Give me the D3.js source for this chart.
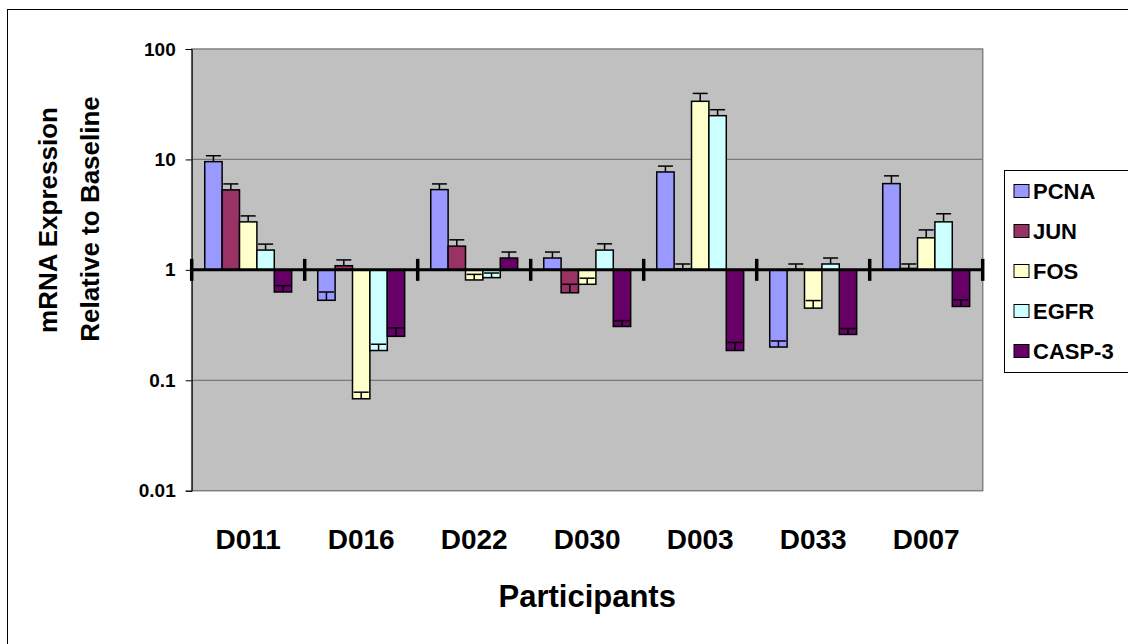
<!DOCTYPE html>
<html>
<head>
<meta charset="utf-8">
<script src="https://cdn.jsdelivr.net/npm/d3@7"></script>
<style>
    body { margin: 0; background: #fff; }
    svg { display: block; font-family: 'Liberation Sans', Arial, sans-serif; font-weight: bold; }
</style>
</head>
<body>
<div class="visHolder"></div>
<script>
const participants = ['D011', 'D016', 'D022', 'D030', 'D003', 'D033', 'D007']
const genes = ['PCNA', 'JUN', 'FOS', 'EGFR', 'CASP-3']
const colors = ['#9999ff', '#993366', '#ffffcc', '#ccffff', '#660066']

// mean fold change and (plus) error per participant
const pcna = [9.55, 0.53, 5.33, 1.28, 7.7, 0.2, 6.04]
const pcnaErr = [1.25, 0.1, 0.67, 0.17, 1.0, 0.027, 1.06]
const jun = [5.3, 1.09, 1.64, 0.62, 1.02, 1.01, 1.03]
const junErr = [0.7, 0.14, 0.23, 0.12, 0.11, 0.12, 0.1]
const fos = [2.72, 0.068, 0.81, 0.74, 33.6, 0.45, 1.95]
const fosErr = [0.36, 0.01, 0.1, 0.1, 6, 0.077, 0.35]
const egfr = [1.51, 0.186, 0.85, 1.51, 24.9, 1.13, 2.72]
const egfrErr = [0.2, 0.026, 0.086, 0.21, 3.3, 0.15, 0.5]
const casp3 = [0.63, 0.25, 1.28, 0.307, 0.186, 0.26, 0.466]
const casp3Err = [0.09, 0.048, 0.17, 0.04, 0.034, 0.034, 0.07]

const yTicks = [100, 10, 1, 0.1, 0.01]
const yTickLabels = ['100', '10', '1', '0.1', '0.01']

function init() {
    const width = 1128
    const height = 644
    const plot = { left: 191.7, right: 982.7, top: 49, bottom: 490.7 }

    const values = [pcna, jun, fos, egfr, casp3]
    const errors = [pcnaErr, junErr, fosErr, egfrErr, casp3Err]

    const rows = []
    participants.forEach((p, i) => {
        genes.forEach((g, j) => {
            rows.push({ participant: p, gene: g, value: values[j][i], err: errors[j][i], color: colors[j] })
        })
    })

    const svg = d3.select('.visHolder')
        .append('svg')
        .attr('width', width)
        .attr('height', height)

    // chart area border (runs off the canvas to the right and bottom)
    svg.append('rect')
        .attr('x', 7.5)
        .attr('y', 9.5)
        .attr('width', width)
        .attr('height', height)
        .attr('fill', 'none')
        .attr('stroke', '#000')

    const x0 = d3.scaleBand()
        .domain(participants)
        .range([plot.left, plot.right])

    const x1 = d3.scaleBand()
        .domain(genes)
        .range([0, x0.bandwidth()])
        .paddingOuter(0.75)

    const y = d3.scaleLog()
        .domain([0.01, 100])
        .range([plot.bottom, plot.top])

    svg.append('rect')
        .attr('x', plot.left)
        .attr('y', plot.top)
        .attr('width', plot.right - plot.left)
        .attr('height', plot.bottom - plot.top)
        .attr('fill', '#c0c0c0')
        .attr('stroke', '#808080')
        .attr('stroke-width', 1.5)

    svg.append('g')
        .selectAll('line')
        .data([10, 0.1])
        .enter()
        .append('line')
        .attr('x1', plot.left)
        .attr('x2', plot.right)
        .attr('y1', d => y(d))
        .attr('y2', d => y(d))
        .attr('stroke', '#7a7a7a')
        .attr('stroke-width', 1.2)

    const yAxis = d3.axisLeft(y)
        .tickValues(yTicks)
        .tickFormat((d, i) => yTickLabels[i])
        .tickSize(6)
        .tickPadding(10)

    const yg = svg.append('g')
        .attr('id', 'y-axis')
        .attr('transform', `translate(${plot.left}, 0)`)
        .call(yAxis)
    yg.select('.domain').attr('stroke', '#000')
    yg.selectAll('.tick line').attr('stroke', '#000')
    yg.selectAll('.tick text')
        .attr('font-size', 19)
        .attr('font-family', 'Liberation Sans, Arial, sans-serif')
        .attr('font-weight', 'bold')
        .attr('fill', '#000')

    const base = y(1)

    const groups = svg.append('g')
        .selectAll('g')
        .data(rows)
        .enter()
        .append('g')
        .attr('transform', d => `translate(${x0(d.participant) + x1(d.gene)}, 0)`)

    groups.append('rect')
        .attr('class', 'bar')
        .attr('x', 0)
        .attr('width', x1.bandwidth())
        .attr('y', d => Math.min(y(d.value), base))
        .attr('height', d => Math.abs(y(d.value) - base))
        .attr('fill', d => d.color)
        .attr('stroke', '#000')
        .attr('stroke-width', 1.5)

    const capHalf = 7.5
    const cx = x1.bandwidth() / 2

    groups.append('line')
        .attr('x1', cx)
        .attr('x2', cx)
        .attr('y1', d => y(d.value))
        .attr('y2', d => y(d.value + d.err))
        .attr('stroke', '#000')
        .attr('stroke-width', 1.5)

    groups.append('line')
        .attr('x1', cx - capHalf)
        .attr('x2', cx + capHalf)
        .attr('y1', d => y(d.value + d.err))
        .attr('y2', d => y(d.value + d.err))
        .attr('stroke', '#000')
        .attr('stroke-width', 1.5)

    // category axis crossing at 1
    svg.append('line')
        .attr('x1', plot.left)
        .attr('x2', plot.right)
        .attr('y1', base)
        .attr('y2', base)
        .attr('stroke', '#000')
        .attr('stroke-width', 3)

    const bounds = participants.map(p => x0(p)).concat([plot.right])
    svg.append('g')
        .selectAll('line')
        .data(bounds)
        .enter()
        .append('line')
        .attr('x1', d => d)
        .attr('x2', d => d)
        .attr('y1', base - 11)
        .attr('y2', base + 11)
        .attr('stroke', '#000')
        .attr('stroke-width', 3.5)

    svg.append('g')
        .selectAll('text')
        .data(participants)
        .enter()
        .append('text')
        .attr('x', d => x0(d) + x0.bandwidth() / 2)
        .attr('y', 549)
        .attr('text-anchor', 'middle')
        .attr('font-size', 28)
        .text(d => d)

    svg.append('text')
        .attr('x', (plot.left + plot.right) / 2)
        .attr('y', 607)
        .attr('text-anchor', 'middle')
        .attr('font-size', 31)
        .text('Participants')

    svg.append('text')
        .attr('transform', 'translate(57, 220) rotate(-90)')
        .attr('text-anchor', 'middle')
        .attr('font-size', 26)
        .text('mRNA Expression')

    svg.append('text')
        .attr('transform', 'translate(99, 219) rotate(-90)')
        .attr('text-anchor', 'middle')
        .attr('font-size', 26)
        .text('Relative to Baseline')

    // legend
    const legend = svg.append('g')
        .attr('transform', 'translate(1004, 170)')

    legend.append('rect')
        .attr('x', 0.5)
        .attr('y', 0.5)
        .attr('width', 200)
        .attr('height', 202)
        .attr('fill', '#fff')
        .attr('stroke', '#000')

    const items = legend.selectAll('g.item')
        .data(genes)
        .enter()
        .append('g')
        .attr('class', 'item')
        .attr('transform', (d, i) => `translate(0, ${21 + i * 40})`)

    items.append('rect')
        .attr('x', 10)
        .attr('y', -6.5)
        .attr('width', 15)
        .attr('height', 13)
        .attr('fill', (d, i) => colors[i])
        .attr('stroke', '#000')

    items.append('text')
        .attr('x', 29)
        .attr('y', 8)
        .attr('font-size', 22)
        .text(d => d)
}

init()
</script>
</body>
</html>
